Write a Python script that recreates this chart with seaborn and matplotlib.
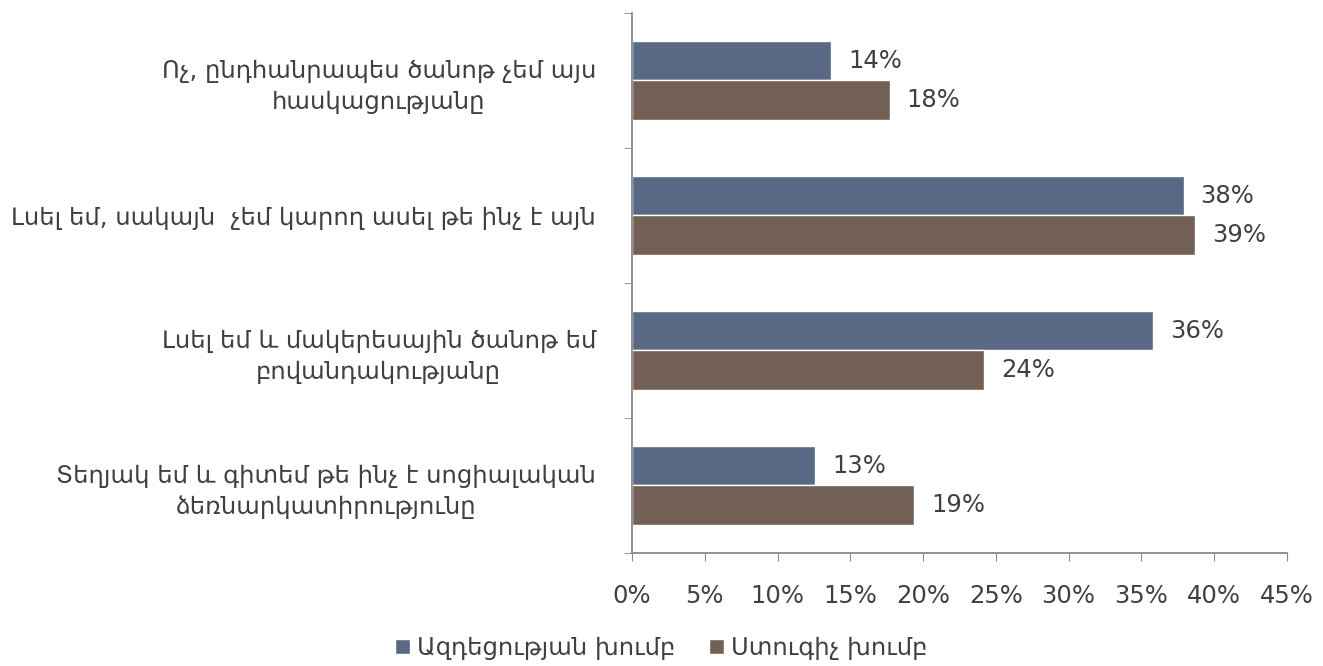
import pandas as pd
import matplotlib.pyplot as plt
import seaborn as sns
from matplotlib.ticker import FixedLocator, PercentFormatter

# Պատասխանների տարբերակներ
kategorianer = [
    'Ոչ, ընդհանրապես ծանոթ չեմ այս\nհասկացությանը',
    'Լսել եմ, սակայն  չեմ կարող ասել թե ինչ է այն',
    'Լսել եմ և մակերեսային ծանոթ եմ\nբովանդակությանը',
    'Տեղյակ եմ և գիտեմ թե ինչ է սոցիալական\nձեռնարկատիրությունը',
]
xmber = ['Ազդեցության խումբ', 'Ստուգիչ խումբ']
azdecutyun = [0.137, 0.379, 0.358, 0.126]
stugich = [0.177, 0.387, 0.242, 0.194]
x_ticks = [0, 0.05, 0.10, 0.15, 0.20, 0.25, 0.30, 0.35, 0.40, 0.45]

df = pd.DataFrame({
    'Կատեգորիա': kategorianer * 2,
    'Խումբ': [xmber[0]] * 4 + [xmber[1]] * 4,
    'Արժեք': azdecutyun + stugich,
})

sns.set_style('white')
plt.rcParams['font.family'] = ['DejaVu Sans']

fig = plt.figure(figsize=(13.23, 6.66), dpi=100)
ax = fig.add_axes([0.4777, 0.1697, 0.4951, 0.8108])

sns.barplot(data=df, x='Արժեք', y='Կատեգորիա', hue='Խումբ', orient='h',
            palette=['#596884', '#736054'], width=0.58, ax=ax,
            saturation=1, legend=True)

# թվային պիտակներ
for cont in ax.containers:
    ax.bar_label(cont, labels=[f'{v * 100:.0f}%' for v in cont.datavalues],
                 padding=12, fontsize=17.5, color='#404040')

ax.set_xlim(0, 0.45)
ax.set_ylim(3.5, -0.5)
ax.xaxis.set_major_locator(FixedLocator(x_ticks))
ax.xaxis.set_major_formatter(PercentFormatter(1.0, decimals=0))
ax.set_xlabel('')
ax.set_ylabel('')

for lab in ax.get_yticklabels():
    lab.set_multialignment('center')
    lab.set_linespacing(1.35)
ax.tick_params(axis='y', length=0, pad=26, labelsize=17.5, labelcolor='#404040')
ax.set_yticks([-0.5, 0.5, 1.5, 2.5, 3.5], minor=True)
ax.tick_params(axis='y', which='minor', length=6, color='#888888', direction='out', left=True)
ax.tick_params(axis='x', length=6, color='#888888', direction='out', bottom=True,
               pad=16, labelsize=17.5, labelcolor='#404040')

sns.despine(ax=ax, top=True, right=True)
for s in ['left', 'bottom']:
    ax.spines[s].set_color('#888888')
    ax.spines[s].set_linewidth(1.3)

handles, labels = ax.get_legend_handles_labels()
ax.legend_.remove()
fig.legend(handles, labels, loc='center', bbox_to_anchor=(0.5, 0.027), ncol=2,
           frameon=False, fontsize=17.5, handlelength=0.6, handleheight=0.6,
           handletextpad=0.3, columnspacing=1.4, labelcolor='#404040')

fig.savefig('out.png', dpi=100)
